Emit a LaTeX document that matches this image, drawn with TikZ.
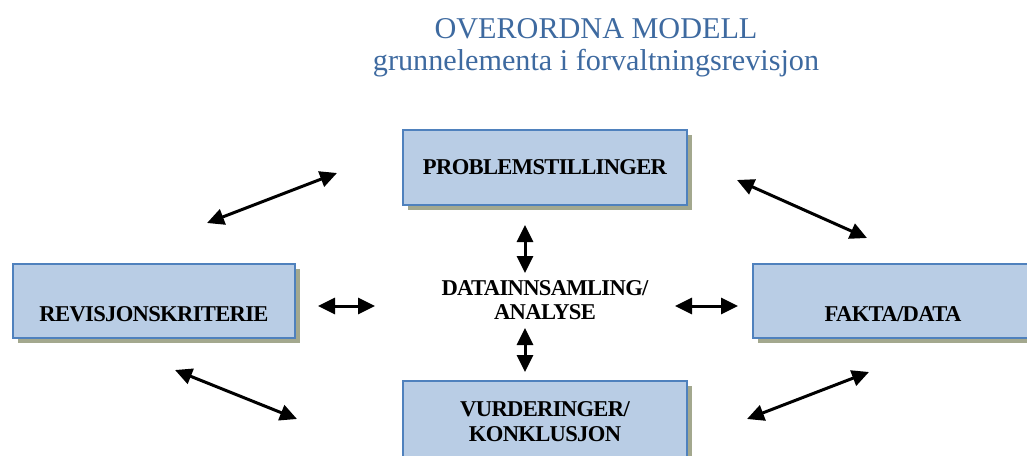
\documentclass[tikz,border=0pt]{standalone}
\usepackage{fontspec}
\setmainfont{Liberation Serif}
\newfontfamily\tettfont[LetterSpace=-3]{Liberation Serif}
\usetikzlibrary{arrows.meta,shadows}
\definecolor{titleblue}{HTML}{3E6AA0}
\definecolor{boxblue}{HTML}{B9CDE5}
\definecolor{boxline}{HTML}{4F81BD}
\definecolor{shadowolive}{HTML}{A3A88E}

\begin{document}
\begin{tikzpicture}[x=0.5pt, y=-0.5pt,
    boks/.style={draw=boxline, line width=1pt, fill=boxblue,
      drop shadow={shadow xshift=2.5pt, shadow yshift=-2.5pt, fill=shadowolive, opacity=1},
      font=\tettfont\fontsize{11.3}{12.5}\selectfont\bfseries, align=center, inner sep=0pt},
    pil/.style={{Triangle[length=8.5pt,width=8pt]}-{Triangle[length=8.5pt,width=8pt]}, line width=1.5pt}]
  \useasboundingbox (0,0) rectangle (1027,455);
  % tittel
  \node[text=titleblue, font=\fontsize{15.1}{16}\selectfont, align=center] (tittel) at (596,48)
    {OVERORDNA MODELL\\grunnelementa i forvaltningsrevisjon};
  % boksane
  \node[boks, minimum width=142pt, minimum height=37.5pt] (problem) at (545,167.5) {PROBLEMSTILLINGER};
  \node[boks, minimum width=141pt, minimum height=37pt, text height=21pt] (kriterie) at (154,301) {REVISJONSKRITERIE};
  \node[boks, minimum width=140pt, minimum height=37pt, text height=21pt] (fakta) at (893,301) {FAKTA/DATA};
  \node[boks, minimum width=142pt, minimum height=40pt, text height=21pt] (vurdering) at (545,421)
    {VURDERINGER/\\KONKLUSJON};
  \node[font=\tettfont\fontsize{11.3}{12}\selectfont\bfseries, align=center] (analyse) at (545,300)
    {DATAINNSAMLING/\\ANALYSE};
  % endepunkt for pilene
  \coordinate (a1) at (207,223); \coordinate (a2) at (337,173);
  \coordinate (b1) at (737,180); \coordinate (b2) at (867,238);
  \coordinate (c1) at (175,370); \coordinate (c2) at (297,419);
  \coordinate (d1) at (747,419); \coordinate (d2) at (869,372);
  \coordinate (e1) at (525,225); \coordinate (e2) at (525,273);
  \coordinate (f1) at (525,328); \coordinate (f2) at (525,372);
  \coordinate (g1) at (318,306); \coordinate (g2) at (375,306);
  \coordinate (h1) at (675,306); \coordinate (h2) at (738,306);
  \foreach \p in {a,b,c,d,e,f,g,h}
    \draw[pil] (\p1) -- (\p2);
\end{tikzpicture}
\end{document}
